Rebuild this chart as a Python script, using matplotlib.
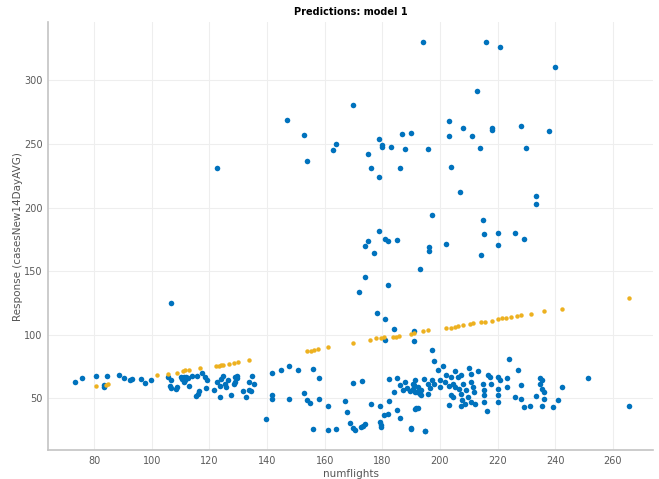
import matplotlib.pyplot as plt

# observed response (blue)
obs_x = [
    73.5, 75.6, 80.5, 83.5, 83.5, 84.5, 88.5, 90.5, 92.4, 93.2, 96.4, 97.6, 99.7,
    105.7, 106.7, 106.4, 106.8, 108.4, 108.8, 110, 110.5, 111, 111.5, 112, 111, 112.5,
    112.8, 114.1, 115.8, 115.9, 115.5, 116.5, 117.3, 118.5, 119.3, 118.7, 121.6, 122.8,
    123.6, 123.7, 124.6, 124, 125.3, 125.8, 126.5, 127.6, 128.4, 128.8, 129, 129.6,
    129.6, 131.7, 132.8, 133.7, 134.5, 133.9, 134.7, 135.6, 106.6, 122.8,
    139.7, 141.8, 141.8, 141.8, 144.8, 147.7, 147.7, 150.9, 152.8, 154, 154.9, 155.9,
    156, 157.9, 157.9, 161, 161, 164, 166.9, 167.9, 169.8, 168.9, 169.9, 170.7, 172.9,
    173.4, 172.7, 174.1, 176.1, 179.1, 179.1, 179.7, 179.5, 180.5, 182.3, 182.2, 182.1,
    185, 185, 186.2, 186.2, 187.1, 188, 190.1, 189.6, 190.5, 190.9, 191.5, 188.5, 192,
    193, 192.4, 195, 184,
    191.4, 194.6, 197.2, 200.2, 202.2, 203.7, 205.2, 206.3, 207.4, 210, 210.9, 213.2,
    216.7, 217.4, 220, 220.7, 223.2, 234.8, 235.5,
    190.6, 192.3, 193.5, 196, 196.4, 197.9, 199.9, 201.6, 203.1, 204.5, 205.1, 206.5,
    208, 209.2, 210.7, 211.6, 211.8, 215, 215.3, 217.9, 220.2, 223.2, 228.3, 234.7,
    235.5, 236, 242.5,
    191.2, 193.5, 195.8, 203, 203.9, 204.5, 207.4, 207.7, 207.2, 208.6, 209.7, 210.9,
    212.1, 215.3, 215.3, 216.2, 220.2, 220.2, 226.2, 228.3, 229.3, 231.2, 233.3, 236.2,
    235.3, 239.4, 241.1, 191.6, 190, 194.9, 251.3, 265.5,
    197.1, 198, 199.2, 201.2, 224.1, 227.2, 190.9, 190.9, 184.1, 181, 181, 178,
    172, 174, 182, 193, 196.2, 196.2, 202.1, 214.2, 220.2, 177, 174, 175, 181, 182,
    185, 179, 229.3, 226.2, 220.2, 215.2, 215.1, 197.1, 233.3, 233.3,
    194, 216, 221, 240, 213, 170, 147, 153, 154, 163, 164, 179, 180, 180, 183, 175,
    176, 179, 187, 190, 188, 186, 196, 203, 203, 208, 211, 204, 207, 214, 218, 218,
    228, 230, 238,
]
obs_y = [
    63, 65.5, 67.6, 58.7, 60.5, 67.3, 68.4, 66, 64.5, 65.3, 65.3, 61.6, 64.5,
    66.8, 63.9, 59.2, 57.9, 57.4, 58.7, 67, 65, 66.5, 64, 67, 63, 65.5,
    59.2, 67.1, 67.1, 52.9, 51.9, 55.5, 69.7, 66.3, 64.5, 58.2, 56.8, 62.6,
    59.2, 50.8, 67.6, 65, 61.3, 58.7, 64.5, 52.4, 61.3, 62.9, 66.5, 67.6,
    65.5, 55.8, 51.3, 56.6, 56, 62.9, 67.6, 61.3, 124.5, 231,
    33.8, 52.1, 49.5, 69.7, 72.3, 75.7, 49.5, 72.3, 54.2, 48.2, 46.4, 72.6,
    25.4, 65.5, 49.5, 43.7, 24.6, 25.6, 47.6, 39, 62.1, 30.6, 26.4, 24.8, 63.7,
    28.3, 27.2, 29.8, 45.6, 43.5, 31.1, 27.2, 29, 36.4, 64.7, 47.4, 37.2,
    65.7, 40.3, 60.2, 34, 56.8, 62.4, 26.2, 56, 57, 60.5, 41.7, 58, 55,
    53.5, 42.1, 24, 54.7,
    63.9, 65.2, 63.9, 64.4, 68.4, 66.5, 71.3, 66.5, 68.4, 73.4, 69.2, 71,
    67.9, 66.5, 66.5, 63.9, 65.8, 65.8, 63.9,
    61.3, 58.7, 56.1, 61.3, 58.1, 60.8, 58.7, 62.6, 59.2, 61.3, 58.7, 57.4,
    60.8, 56.1, 62.6, 58.7, 54.7, 61.3, 56.1, 61.3, 57.4, 58.7, 60, 61.3,
    57.4, 54.7, 58.7,
    54.7, 52.1, 53.4, 45, 52.1, 50.8, 53.4, 48.2, 44, 45.6, 50.8, 46.9,
    45.6, 52.1, 46.9, 39.8, 52.1, 46.6, 51.3, 49.2, 43, 43.5, 51.8, 49.5,
    43.5, 43.2, 48.2, 42.2, 25.9, 24.1, 65.7, 43.7,
    87.8, 79.1, 71.8, 75.5, 81.2, 71.8, 102.7, 94.6, 104.3, 112.2, 95.6, 116.9,
    133.7, 145, 138.9, 151.3, 168.8, 166, 171.7, 162.5, 170.4, 164.6, 169.9, 173.8, 175.1, 173.8,
    174.3, 181.7, 175.1, 180.1, 180.1, 178.8, 190, 194.3, 209.2, 202.6,
    330, 330, 326, 311, 292, 281, 269, 257, 237, 245, 250, 254, 249, 248, 248, 242,
    231, 224, 258, 259, 246, 231, 246, 268, 256, 263, 256, 232, 212, 247, 263, 261,
    264, 247, 260,
]

# model 1 predictions (yellow)
pred_x = [
    80.5, 84, 84.7, 101.7, 105.6, 108.7, 110.8, 111.6, 112.8, 116.6, 122.4, 123.2,
    124, 124.7, 126.9, 128.4, 129.8, 133.7, 153.8, 155.2, 156.4, 157.8, 161, 169.9,
    175.8, 177.8, 179.6, 180.7, 183.6, 184.8, 185.9, 190, 190.9, 194, 196, 202.2,
    203.9, 205.1, 206.3, 208, 210.3, 211.5, 214.4, 215.8, 218.2, 220.2, 221.6, 223.1,
    224.8, 226.6, 228.3, 231.5, 236.2, 242.3, 265.8,
]
pred_y = [
    59.4, 60.5, 61.5, 67.9, 69.2, 70, 71.2, 71.8, 72, 73.6, 75.5, 75.7,
    76, 76.3, 76.8, 77.5, 78.1, 79.7, 87, 87.5, 88.1, 88.6, 89.9, 93.3,
    95.9, 97, 97.2, 97.8, 98, 98.5, 99.1, 100.7, 101.5, 102.5, 103.3, 105.1,
    105.6, 106.2, 106.6, 107.7, 108.2, 108.8, 109.8, 110.3, 111.1, 112.2, 112.7, 113.3,
    113.7, 114.5, 115.1, 116.4, 118.2, 120.3, 129,
]

fig = plt.figure(figsize=(6.59, 4.79), dpi=100)
ax = fig.add_axes([0.073, 0.06, 0.918, 0.894])

ax.plot(obs_x, obs_y, 'o', color='#0072BD', markersize=4.0, markeredgewidth=0, zorder=3)
ax.plot(pred_x, pred_y, 'o', color='#EDB120', markersize=3.2, markeredgewidth=0, zorder=4)

ax.set_xlim(64, 274)
ax.set_ylim(9, 346)
ax.set_xticks(range(80, 261, 20))
ax.set_yticks(range(50, 301, 50))
ax.grid(True, color='#eeeeee', linewidth=0.8)
ax.set_axisbelow(True)

for side in ('top', 'right'):
    ax.spines[side].set_visible(False)
for side in ('bottom', 'left'):
    ax.spines[side].set_color('#c4c4c4')
    ax.spines[side].set_linewidth(1.2)
ax.tick_params(length=0, pad=4, labelcolor='#5a5a5a', labelsize=7)

ax.set_title('Predictions: model 1', fontsize=7, fontweight='bold', pad=5)
ax.set_xlabel('numflights', fontsize=7.5, color='#555555', labelpad=2)
ax.set_ylabel('Response (casesNew14DayAVG)', fontsize=7.5, color='#555555', labelpad=1)

fig.savefig('out.png', dpi=100)
